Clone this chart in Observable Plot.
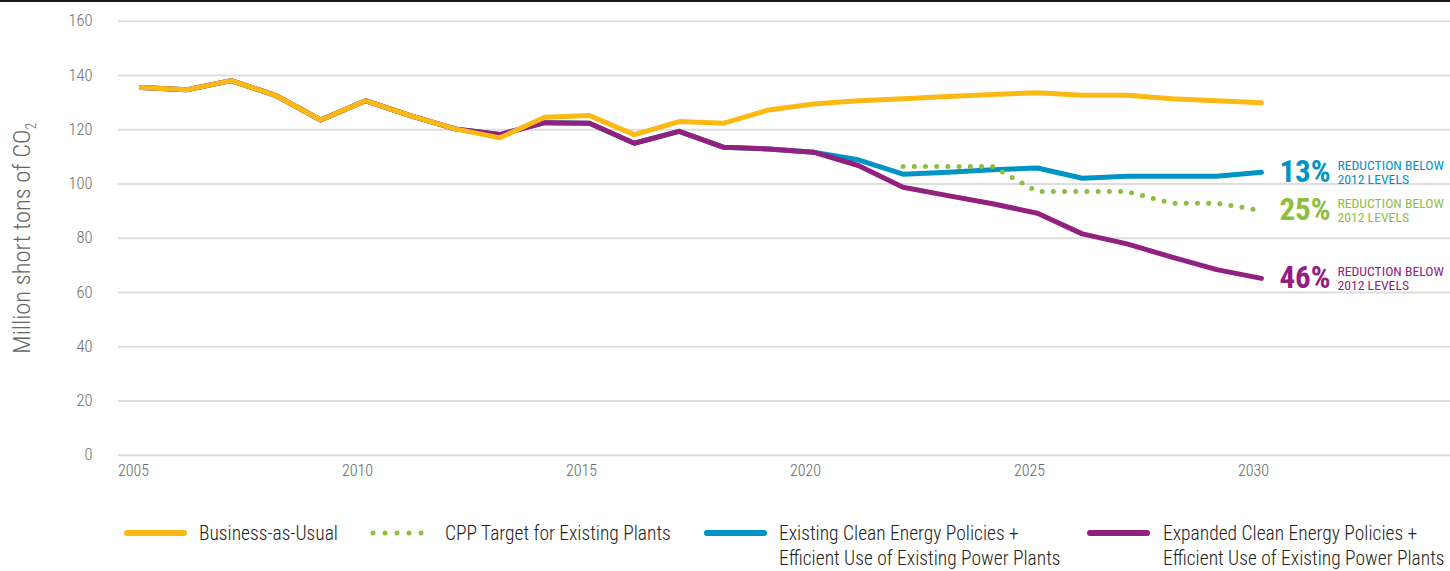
<!DOCTYPE html>
<html><head><meta charset="utf-8">
<script src="https://cdn.jsdelivr.net/npm/d3@7"></script>
<script src="https://cdn.jsdelivr.net/npm/@observablehq/plot@0.6"></script>
<style>
body{margin:0;background:#fff;}
#wrap{position:relative;width:1450px;height:571px;overflow:hidden;font-family:"Liberation Sans Narrow","Roboto Condensed","DejaVu Sans Condensed",Roboto,sans-serif;}
#topline{position:absolute;left:0;top:0;width:1450px;height:2px;background:#1a1a1a;}
.leg{position:absolute;color:#222;font-size:19.5px;line-height:25px;font-weight:300;}
.sw{position:absolute;}
</style></head><body>
<div id="wrap"><div id="chart"></div><div id="topline"></div></div>
<script>
const FONT = '"Liberation Sans Narrow","Roboto Condensed","DejaVu Sans Condensed",Roboto,sans-serif';
const years = [2005,2006,2007,2008,2009,2010,2011,2012,2013,2014,2015,2016,2017,2018,2019,2020,2021,2022,2023,2024,2025,2026,2027,2028,2029,2030];
const businessAsUsual = [135.6,134.7,138.1,132.6,123.6,130.7,125.2,120.3,117.0,124.6,125.2,118.2,123.0,122.4,127.3,129.5,130.7,131.4,132.2,133.0,133.6,132.7,132.7,131.4,130.7,129.9];
const existingPolicies = [135.6,134.7,138.1,132.6,123.6,130.7,125.2,120.3,118.2,122.6,122.4,115.0,119.4,113.5,112.9,111.7,108.9,103.6,104.3,105.2,105.9,102.1,102.8,102.8,102.8,104.3];
const expandedPolicies = [135.6,134.7,138.1,132.6,123.6,130.7,125.2,120.3,118.2,122.6,122.4,115.0,119.4,113.5,112.9,111.7,106.8,98.8,95.7,92.7,89.2,81.6,77.9,73.0,68.4,65.2];
const cppYears = [2022,2023,2024,2025,2026,2027,2028,2029,2030];
const cppTarget = [106.4,106.4,106.4,97.2,97.2,97.2,92.9,92.9,90.2];
const yTicks = [0,20,40,60,80,100,120,140,160];
const xTicks = [2005,2010,2015,2020,2025,2030];
const seriesNames = ["Business-as-Usual","CPP Target for Existing Plants","Existing Clean Energy Policies + Efficient Use of Existing Power Plants","Expanded Clean Energy Policies + Efficient Use of Existing Power Plants"];
const colors = ["#FDB913","#8DBE3F","#0093C6","#92207F"];
const reductions = ["13%","25%","46%"];
const reductionText = ["REDUCTION BELOW","2012 LEVELS"];
const yTitle = "Million short tons of CO";

const toRows = (xs, vs, s) => xs.map((x,i)=>({year:x, value:vs[i], series:s}));
const bauRows = toRows(years, businessAsUsual, seriesNames[0]);
const cppRows = toRows(cppYears, cppTarget, seriesNames[1]);
const exRows = toRows(years, existingPolicies, seriesNames[2]);
const epRows = toRows(years, expandedPolicies, seriesNames[3]);

const last = a => a[a.length-1];
const annots = [
  {year: last(years), value: last(existingPolicies), pct: reductions[0], color: colors[2]},
  {year: last(cppYears), value: last(cppTarget), pct: reductions[1], color: colors[1]},
  {year: last(years), value: last(expandedPolicies), pct: reductions[2], color: colors[3]}
];

const lineOpts = (c)=>({x:"year", y:"value", stroke:c, strokeWidth:5, strokeLinejoin:"round", strokeLinecap:"round"});

const chart = Plot.plot({
  width:1450, height:495,
  marginLeft:118, marginRight:0, marginTop:20.7, marginBottom:40.3,
  style:{fontFamily:FONT, background:"#fff"},
  x:{domain:[2004.487, 2034.22], axis:null},
  y:{domain:[0,160], axis:null},
  marks:[
    Plot.gridY(yTicks, {stroke:"#dddddd", strokeOpacity:1, strokeWidth:2}),
    Plot.axisY(yTicks, {tickSize:0, tickPadding:26, fontSize:16.5, fontWeight:300, fill:"#6f6f6f", label:null}),
    Plot.axisX(xTicks, {tickSize:0, tickPadding:9, dx:-8, fontSize:16, fontWeight:300, fill:"#666", label:null, tickFormat:d=>String(d)}),
    Plot.text([yTitle], {frameAnchor:"left", rotate:-90, dx:-96, fontSize:24.5, fontWeight:300, fill:"#666", textAnchor:"middle", text:d=>d, className:"ytitle"}),
    Plot.line(exRows, lineOpts(colors[2])),
    Plot.line(epRows, lineOpts(colors[3])),
    Plot.line(bauRows, lineOpts(colors[0])),
    Plot.line(cppRows, {x:"year", y:"value", stroke:colors[1], strokeWidth:5, strokeLinecap:"round", strokeDasharray:"0,11.2"}),
    Plot.text(annots, {x:"year", y:"value", text:"pct", fill:"color", dx:18, textAnchor:"start", fontSize:31, fontWeight:"bold"}),
    Plot.text(annots, {x:"year", y:"value", text:()=>reductionText[0], fill:"color", dx:76, dy:-7, textAnchor:"start", fontSize:13.7}),
    Plot.text(annots, {x:"year", y:"value", text:()=>reductionText[1], fill:"color", dx:76, dy:7, textAnchor:"start", fontSize:13.7})
  ]
});
document.getElementById("chart").appendChild(chart);
// subscript 2 in y title
d3.select(chart).selectAll("g.ytitle text").each(function(){
  const t = d3.select(this);
  t.append("tspan").attr("font-size", 14).attr("dy", 6).text("2");
});

// legend
const wrap = document.getElementById("wrap");
const legItems = [
  {x:127, tx:199, kind:"line", lines:[seriesNames[0]]},
  {x:373, tx:445, kind:"dots", lines:[seriesNames[1]]},
  {x:707, tx:779, kind:"line", lines:["Existing Clean Energy Policies +","Efficient Use of Existing Power Plants"]},
  {x:1090, tx:1163, kind:"line", lines:["Expanded Clean Energy Policies +","Efficient Use of Existing Power Plants"]}
];
legItems.forEach((it,i)=>{
  const svg = d3.select(wrap).append("svg").attr("class","sw")
    .style("left",(it.x-4)+"px").style("top","526px").attr("width",66).attr("height",14);
  if(it.kind==="line"){
    svg.append("line").attr("x1",4).attr("x2",61).attr("y1",7).attr("y2",7)
      .attr("stroke",colors[i]).attr("stroke-width",6).attr("stroke-linecap","round");
  } else {
    svg.append("line").attr("x1",4).attr("x2",54).attr("y1",7).attr("y2",7)
      .attr("stroke",colors[i]).attr("stroke-width",5).attr("stroke-linecap","round").attr("stroke-dasharray","0,12");
  }
  const div = d3.select(wrap).append("div").attr("class","leg")
    .style("left",it.tx+"px").style("top","521px");
  it.lines.forEach((l,j)=>{ if(j) div.append("br"); div.append("span").text(l); });
});
</script>
</body></html>
